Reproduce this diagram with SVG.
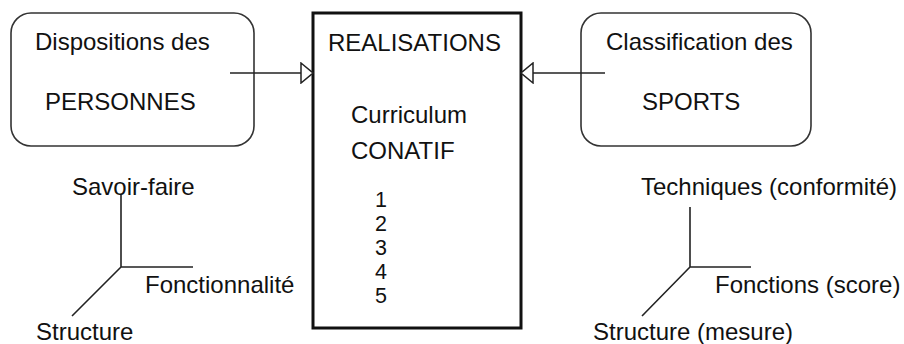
<svg xmlns="http://www.w3.org/2000/svg" width="904" height="344" viewBox="0 0 904 344">
<style>
text{font-family:"Liberation Sans",Arial,sans-serif;font-size:24px;fill:#111}
.num{font-size:21.5px}
.box{fill:#fff;stroke:#333;stroke-width:1.6}
.main{fill:#fff;stroke:#111;stroke-width:3}
.ln{stroke:#222;stroke-width:1.6;fill:none}
</style>
<defs>
<marker id="tri" viewBox="0 0 14 22" refX="13" refY="11" markerWidth="14" markerHeight="22" markerUnits="userSpaceOnUse" orient="auto">
<path d="M1,1 L13,11 L1,21 Z" fill="#fff" stroke="#222" stroke-width="1.5"/>
</marker>
</defs>
<rect width="904" height="344" fill="#fff"/>
<g id="personnes">
<rect class="box" x="11" y="13" width="243" height="133" rx="20"/>
<text x="35" y="50">Dispositions des</text>
<text x="45" y="110">PERSONNES</text>
</g>
<g id="sports">
<rect class="box" x="581" y="13" width="230" height="133" rx="20"/>
<text x="606" y="50">Classification des</text>
<text x="642" y="110">SPORTS</text>
</g>
<g id="realisations">
<rect class="main" x="313" y="13" width="208" height="315"/>
<text x="328" y="51">REALISATIONS</text>
<text x="351" y="123">Curriculum</text>
<text x="351" y="159">CONATIF</text>
<text class="num" x="375" y="207">1</text>
<text class="num" x="375" y="231">2</text>
<text class="num" x="375" y="255">3</text>
<text class="num" x="375" y="279">4</text>
<text class="num" x="375" y="303">5</text>
</g>
<g id="axes-personnes">
<path class="ln" d="M121,195 V267 H193 M121,267 L72,316"/>
<text x="72" y="195">Savoir-faire</text>
<text x="145" y="293">Fonctionnalité</text>
<text x="36" y="340">Structure</text>
</g>
<g id="axes-sports">
<path class="ln" d="M690,207 V267 H751 M690,267 L642,316"/>
<text x="641" y="195">Techniques (conformité)</text>
<text x="715" y="293">Fonctions (score)</text>
<text x="593" y="340">Structure (mesure)</text>
</g>
<g id="connectors">
<line class="ln" x1="230" y1="73" x2="313" y2="73" marker-end="url(#tri)"/>
<line class="ln" x1="605" y1="73" x2="521" y2="73" marker-end="url(#tri)"/>
</g>
</svg>
